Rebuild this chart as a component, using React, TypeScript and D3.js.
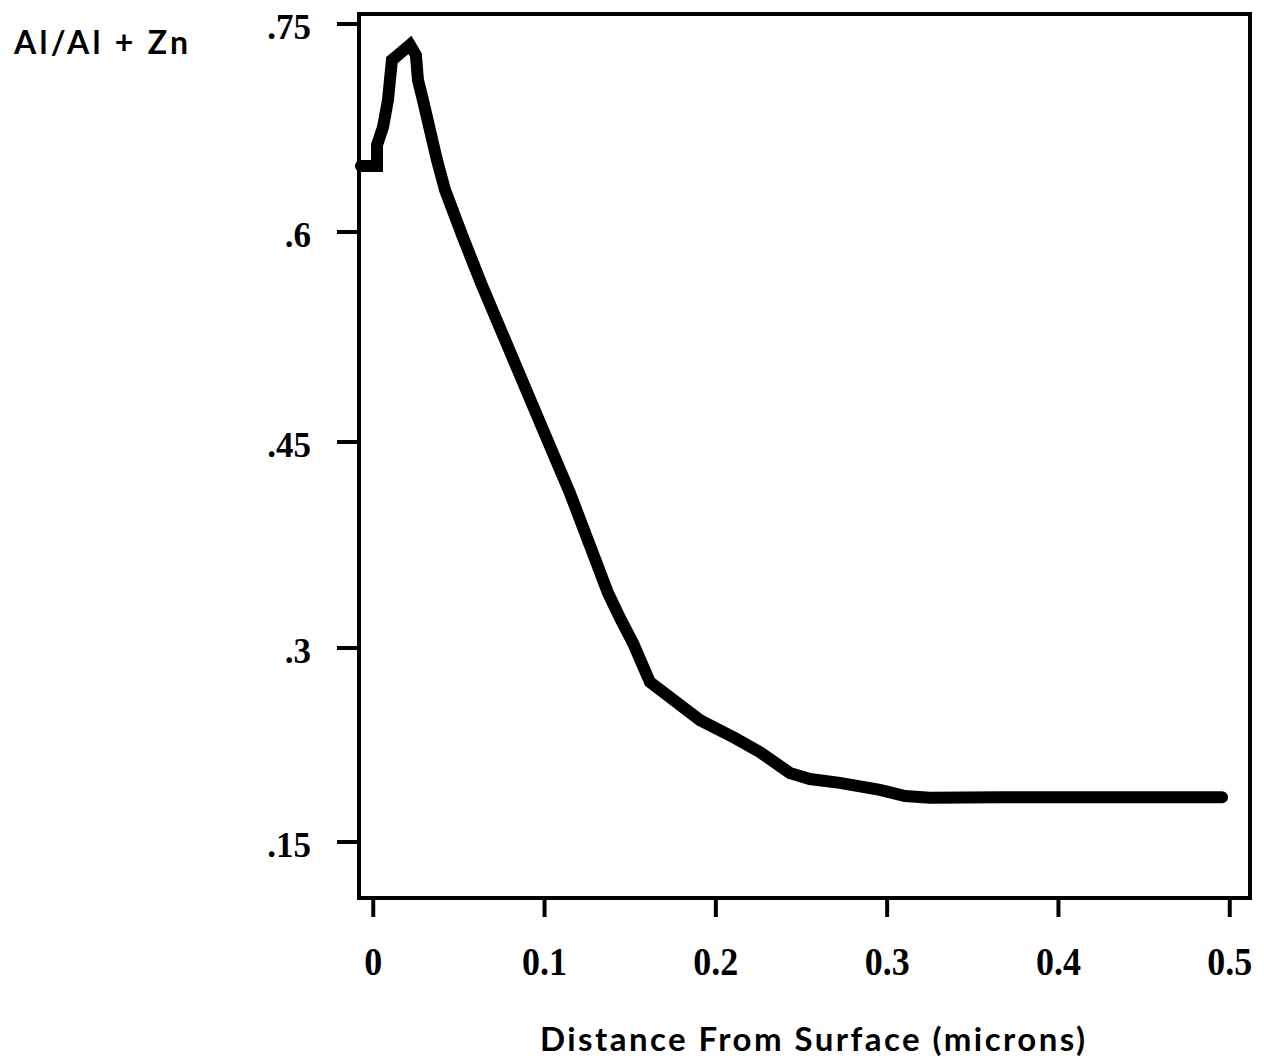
import React from "react";
import * as d3 from "d3";

// Distance from surface (microns)
const distance = [
  -0.0072, 0.0022, 0.0022, 0.0057, 0.0086, 0.0109, 0.0144, 0.0214, 0.0249, 0.0261,
  0.029, 0.0331, 0.0372, 0.0419, 0.0518, 0.0629, 0.0740, 0.0851, 0.0967, 0.1066,
  0.1148, 0.1259, 0.1370, 0.1440, 0.1516, 0.1615, 0.1907, 0.2111, 0.2257, 0.2432,
  0.2549, 0.2724, 0.2958, 0.3104, 0.325, 0.3659, 0.4243, 0.4955,
];
// Al/(Al + Zn) ratio
const ratio = [
  0.6476, 0.6476, 0.6627, 0.6757, 0.6952, 0.724, 0.7276, 0.7349, 0.7276, 0.7096,
  0.6952, 0.6735, 0.6519, 0.6303, 0.5979, 0.5636, 0.5314, 0.4993, 0.4657, 0.4369,
  0.4129, 0.3765, 0.3401, 0.3219, 0.3037, 0.2737, 0.2443, 0.2304, 0.2196, 0.2034,
  0.1987, 0.1957, 0.1903, 0.1856, 0.1843, 0.1846, 0.1846, 0.1846,
];

const xTicks = [0, 0.1, 0.2, 0.3, 0.4, 0.5];
const xTickLabels = ["0", "0.1", "0.2", "0.3", "0.4", "0.5"];
const yTicks = [0.15, 0.3, 0.45, 0.6, 0.75];
const yTickLabels = [".15", ".3", ".45", ".6", ".75"];

const yTitle = "Al/Al + Zn";
const xTitle = "Distance From Surface (microns)";

const W = 1264;
const H = 1063;
const frame = { left: 359, right: 1250, top: 14, bottom: 898 };

export default function App() {
  const x = d3.scaleLinear().domain([0, 0.5]).range([373.25, 1229.75]);
  // scanned axis is slightly non-uniform, so map through each tick
  const y = d3
    .scaleLinear()
    .domain([0.15, 0.3, 0.45, 0.6, 0.75])
    .range([842, 648, 442, 232, 24]);

  const pts: [number, number][] = distance.map((d, i) => [d, ratio[i]]);
  const line = d3
    .line<[number, number]>()
    .x((d) => x(d[0]))
    .y((d) => y(d[1]));

  const serif = "'Liberation Serif', 'DejaVu Serif', serif";
  const sans = "Lato, 'Open Sans', 'Noto Sans', sans-serif";

  return (
    <svg
      width={W}
      height={H}
      viewBox={`0 0 ${W} ${H}`}
      style={{ position: "absolute", left: 0, top: 0, background: "#fff" }}
    >
      <rect x={0} y={0} width={W} height={H} fill="#fff" />

      {/* data line */}
      <path
        d={line(pts) || ""}
        fill="none"
        stroke="#000"
        strokeWidth={12}
        strokeLinejoin="miter"
        strokeMiterlimit={6}
        strokeLinecap="round"
      />

      {/* frame */}
      <rect
        x={frame.left}
        y={frame.top}
        width={frame.right - frame.left}
        height={frame.bottom - frame.top}
        fill="none"
        stroke="#000"
        strokeWidth={4}
      />

      {/* y ticks */}
      {yTicks.map((t, i) => (
        <g key={"y" + i}>
          <line
            x1={frame.left - 22}
            x2={frame.left}
            y1={y(t)}
            y2={y(t)}
            stroke="#000"
            strokeWidth={4}
          />
          <text
            x={311}
            y={y(t) + 15}
            textAnchor="end"
            fontFamily={serif}
            fontWeight="bold"
            fontSize={35}
            fill="#000"
          >
            {yTickLabels[i]}
          </text>
        </g>
      ))}

      {/* x ticks */}
      {xTicks.map((t, i) => (
        <g key={"x" + i}>
          <line
            x1={x(t)}
            x2={x(t)}
            y1={frame.bottom}
            y2={frame.bottom + 19}
            stroke="#000"
            strokeWidth={4}
          />
          <text
            transform={`translate(${x(t)},975) scale(1,1.12)`}
            textAnchor="middle"
            fontFamily={serif}
            fontWeight="bold"
            fontSize={36}
            fill="#000"
          >
            {xTickLabels[i]}
          </text>
        </g>
      ))}

      {/* titles */}
      <text
        x={14}
        y={54}
        fontFamily={sans}
        fontWeight="bold"
        fontSize={32}
        textLength={174}
        lengthAdjust="spacing"
        fill="#000"
      >
        {yTitle}
      </text>
      <text
        x={540}
        y={1051}
        fontFamily={sans}
        fontWeight="bold"
        fontSize={33}
        textLength={545}
        lengthAdjust="spacing"
        fill="#000"
      >
        {xTitle}
      </text>
    </svg>
  );
}
